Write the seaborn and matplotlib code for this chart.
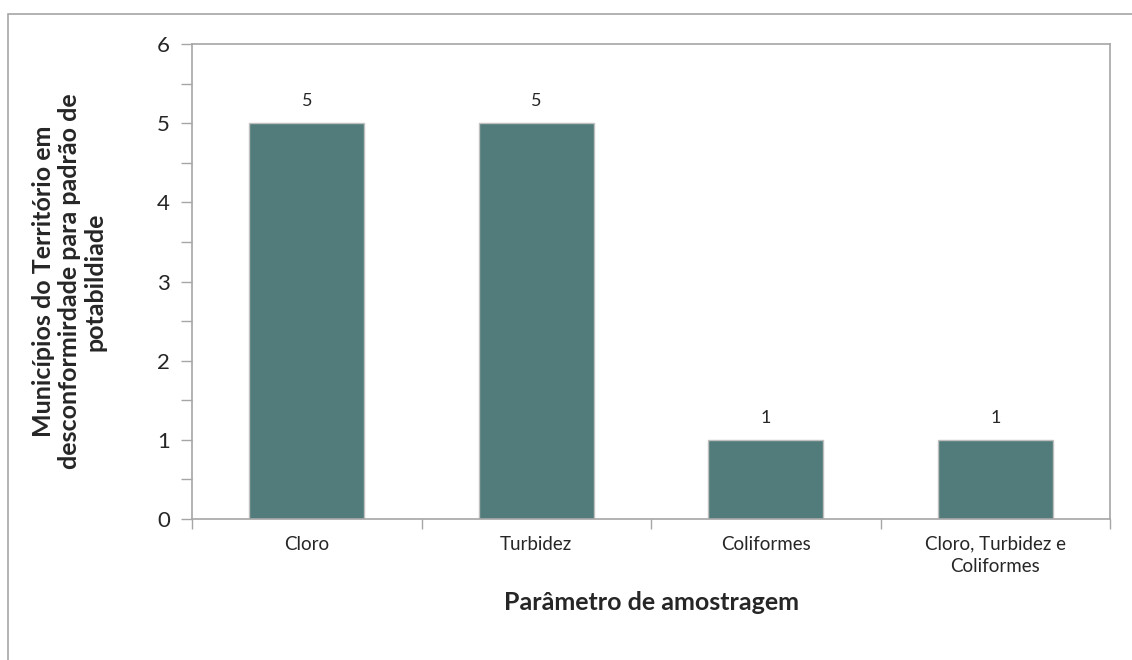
import matplotlib
matplotlib.use("Agg")
import matplotlib.pyplot as plt
import seaborn as sns
import pandas as pd
from matplotlib.ticker import MultipleLocator, FixedLocator, NullFormatter
from matplotlib.patches import Rectangle

# Dados
parametros = ['Cloro', 'Turbidez', 'Coliformes', 'Cloro, Turbidez e\nColiformes']
municipios = [5, 5, 1, 1]

df = pd.DataFrame({'Parametro': parametros, 'Municipios': municipios})

sns.set_style('white')
plt.rcParams['font.family'] = ['Lato', 'DejaVu Sans']

W, H = 1132, 660
fig = plt.figure(figsize=(W / 100, H / 100), dpi=100)
ax = fig.add_axes([192 / W, 1 - 519 / H, (1110 - 192) / W, (519 - 44) / H])

cinza = '#A6A6A6'
sns.barplot(x='Parametro', y='Municipios', data=df, color='#517C7B',
            width=0.5, edgecolor='#BFBFBF', linewidth=1, saturation=1, ax=ax)

# Rótulos de valores
for p in ax.patches:
    ax.text(p.get_x() + p.get_width() / 2, p.get_height() + 0.28,
            f'{int(p.get_height())}', ha='center', va='center', fontsize=13)

ax.set_ylim(0, 6)
ax.set_xlim(-0.5, 3.5)
ax.yaxis.set_major_locator(MultipleLocator(1))
ax.yaxis.set_minor_locator(MultipleLocator(0.5))
ax.xaxis.set_minor_locator(FixedLocator([-0.5, 0.5, 1.5, 2.5, 3.5]))
ax.xaxis.set_minor_formatter(NullFormatter())
ax.tick_params(axis='y', which='both', direction='out', length=8, width=1,
               color=cinza, labelsize=16, left=True)
ax.tick_params(axis='y', which='major', pad=8)
ax.tick_params(axis='x', which='major', length=0, labelsize=13.5, pad=12)
ax.tick_params(axis='x', which='minor', direction='out', length=7, width=1,
               color=cinza, bottom=True)
for t in ax.get_xticklabels():
    t.set_linespacing(1.35)

for s in ax.spines.values():
    s.set_color(cinza)
    s.set_linewidth(1.2)

ax.set_xlabel('Parâmetro de amostragem', fontsize=18, fontweight='bold', labelpad=12)
ax.set_ylabel('Municípios do Território em\ndesconformirdade para padrão de\npotabildiade',
              fontsize=18, fontweight='bold', labelpad=36, linespacing=1.15)

# Borda externa
fig.patches.append(Rectangle((8 / W, -0.1), 1.2, 1 - 14 / H + 0.1,
                             transform=fig.transFigure, fill=False,
                             edgecolor=cinza, linewidth=1.2))

plt.savefig('out.png', dpi=100)
